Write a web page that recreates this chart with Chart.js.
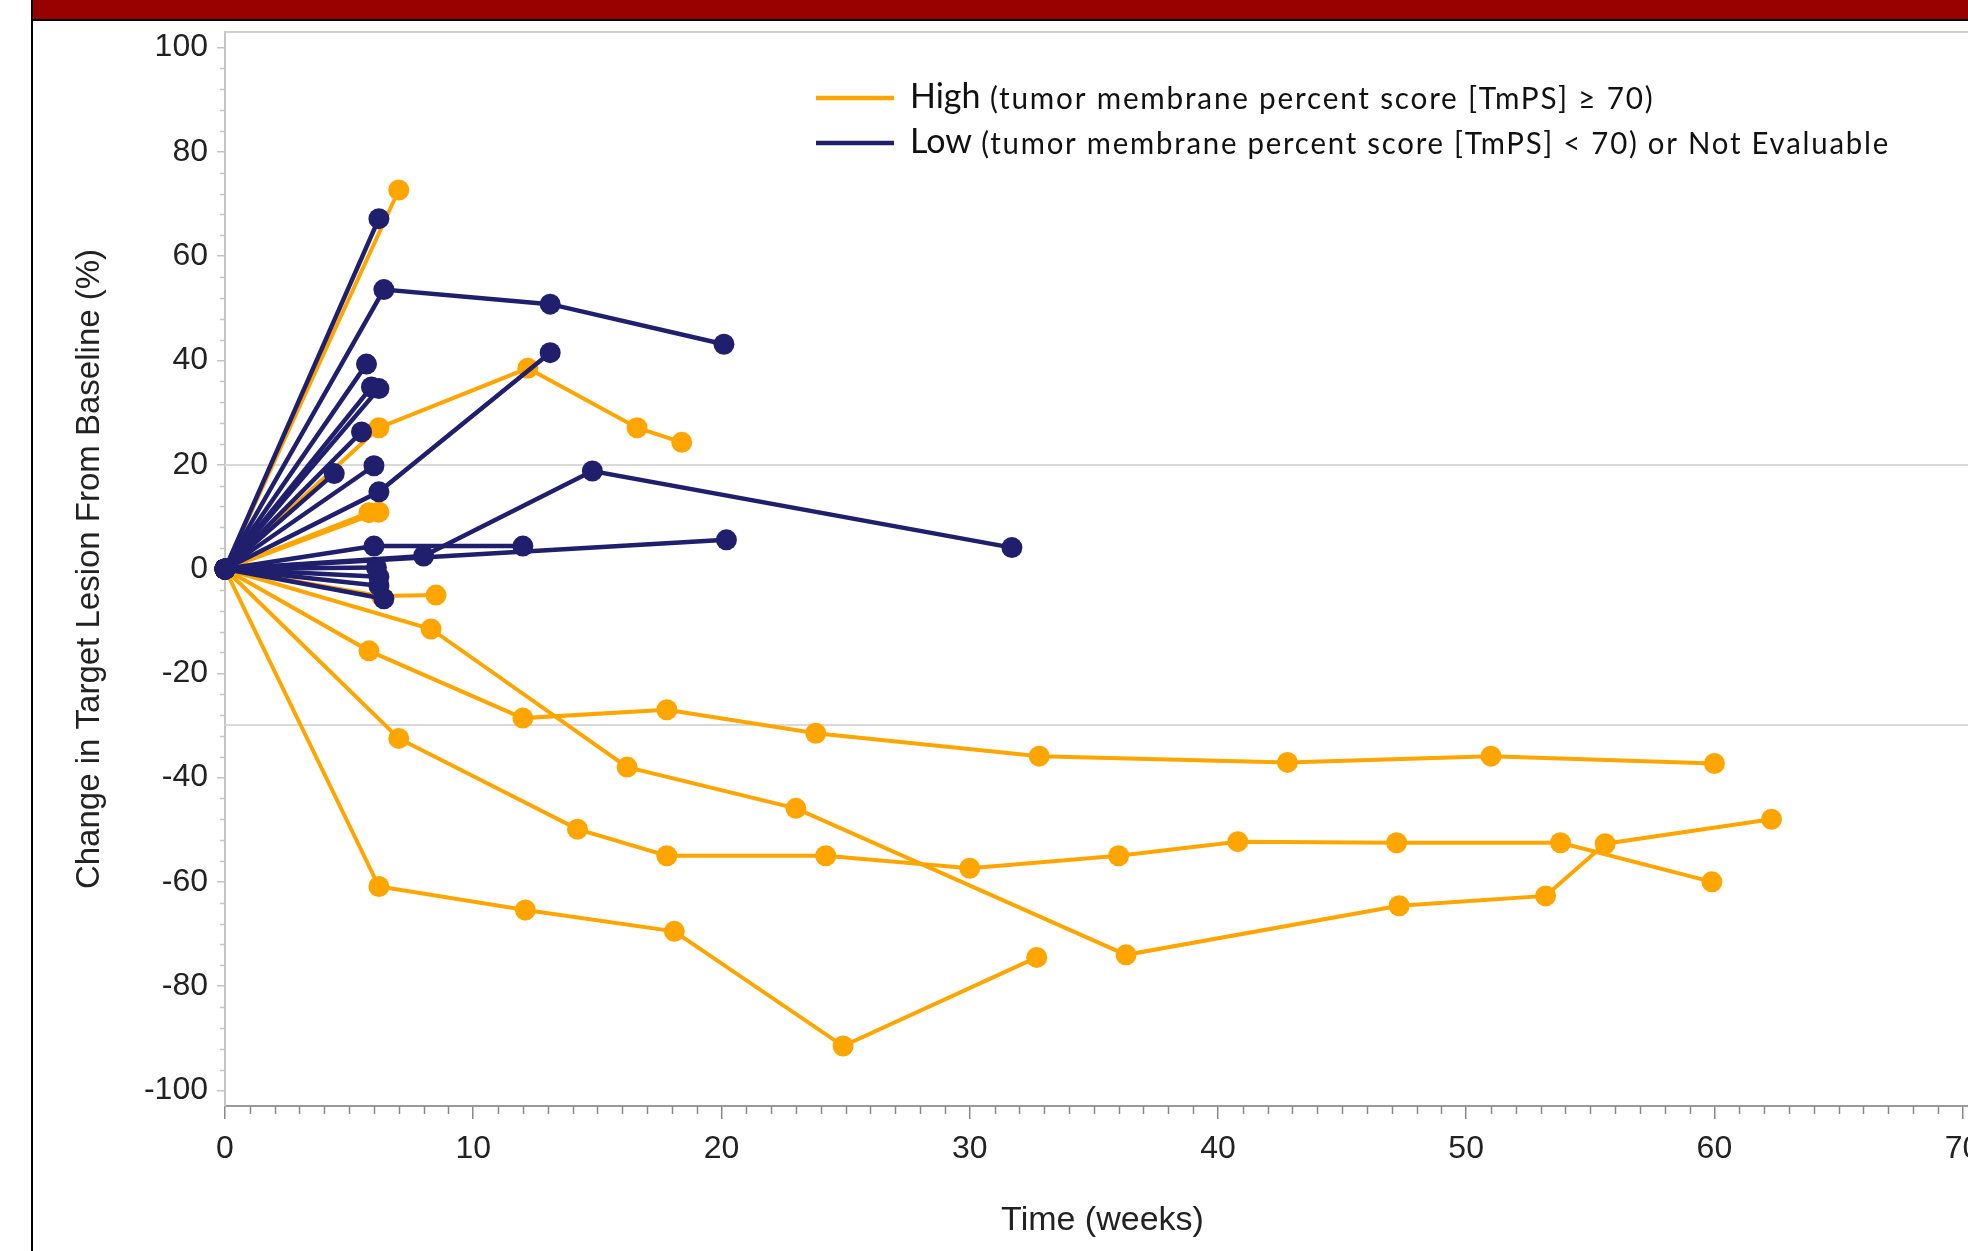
<!DOCTYPE html>
<html>
<head>
<meta charset="utf-8">
<script src="https://cdn.jsdelivr.net/npm/chart.js@4.4.1/dist/chart.umd.min.js"></script>
<style>
  html, body { margin: 0; padding: 0; background: #fff; overflow: hidden; width: 1968px; height: 1251px; }
  #panel { position: absolute; left: 31px; top: -8px; width: 3000px; height: 3000px; border: 2px solid #000; }
  #panel .bar { height: 25px; background: #990000; border-bottom: 2px solid #000; }
  #chart { position: absolute; left: 0; top: 0; }
</style>
</head>
<body>
<div id="panel"><div class="bar"></div></div>
<canvas id="chart" width="2000" height="1251"></canvas>
<script>
// --- data ----------------------------------------------------------
const xTicks = [0, 10, 20, 30, 40, 50, 60, 70];
const yTicks = [-100, -80, -60, -40, -20, 0, 20, 40, 60, 80, 100];
const refLines = [20, -30];

const legendNames = ['High', 'Low'];
const legendNotes = [
  ' (tumor membrane percent score [TmPS] \u2265 70)',
  ' (tumor membrane percent score [TmPS] < 70) or Not Evaluable'
];

// TmPS high: weeks / % change per patient
const highWeeks = [
  [0, 7.0],
  [0, 6.2, 12.2, 16.6, 18.4],
  [0, 5.8],
  [0, 6.2],
  [0, 6.3, 8.5],
  [0, 8.3, 16.2, 23.0, 36.3, 47.3, 53.2, 55.6, 62.3],
  [0, 5.8, 12.0, 17.8, 23.8, 32.8, 42.8, 51.0, 60.0],
  [0, 7.0, 14.2, 17.8, 24.2, 30.0, 36.0, 40.8, 47.2, 53.8, 59.9],
  [0, 6.2, 12.1, 18.1, 24.9, 32.7],
];
const highChange = [
  [0, 72.7],
  [0, 27.1, 38.5, 27.1, 24.3],
  [0, 10.8],
  [0, 10.9],
  [0, -5.2, -5.0],
  [0, -11.5, -38.0, -45.9, -74.0, -64.6, -62.7, -52.7, -48.0],
  [0, -15.7, -28.6, -27.0, -31.5, -35.9, -37.1, -35.9, -37.3],
  [0, -32.5, -49.9, -55.0, -55.0, -57.4, -55.0, -52.3, -52.5, -52.5, -60.0],
  [0, -60.9, -65.4, -69.5, -91.5, -74.5],
];

// TmPS low or not evaluable
const lowWeeks = [
  [0, 6.2],
  [0, 6.4, 13.1, 20.1],
  [0, 5.7],
  [0, 5.9],
  [0, 6.2],
  [0, 5.5],
  [0, 6.0],
  [0, 4.4],
  [0, 6.2, 13.1],
  [0, 6.0, 12.0],
  [0, 8.0, 14.8, 31.7],
  [0, 20.2],
  [0, 6.1],
  [0, 6.2],
  [0, 6.2],
  [0, 6.4],
];
const lowChange = [
  [0, 67.2],
  [0, 53.6, 50.8, 43.1],
  [0, 39.3],
  [0, 34.9],
  [0, 34.6],
  [0, 26.3],
  [0, 19.8],
  [0, 18.3],
  [0, 14.8, 41.5],
  [0, 4.4, 4.4],
  [0, 2.5, 18.8, 4.1],
  [0, 5.6],
  [0, 0.3],
  [0, -1.5],
  [0, -3.2],
  [0, -5.7],
];

const ORANGE = '#ffa500';
const NAVY = '#1f1f6e';
const FONT = "'Liberation Sans', Arial, sans-serif";

function makeSets(weeks, change, color, width, order) {
  return weeks.map((w, i) => ({
    data: w.map((x, j) => ({ x, y: change[i][j] })),
    showLine: true,
    borderColor: color,
    backgroundColor: color,
    borderWidth: width,
    pointRadius: 10.5,
    pointBorderWidth: 0,
    pointHoverRadius: 10.5,
    clip: false,
    order,
  }));
}

// --- extra drawing: reference lines, frame, minor ticks, legend ------
const decor = {
  id: 'decor',
  beforeDatasetsDraw(chart) {
    const { ctx, chartArea: a, scales: { y } } = chart;
    ctx.save();
    ctx.lineWidth = 2;
    ctx.strokeStyle = '#dadada';
    refLines.forEach(v => {
      const py = Math.round(y.getPixelForValue(v));
      ctx.beginPath(); ctx.moveTo(a.left, py); ctx.lineTo(a.right, py); ctx.stroke();
    });
    ctx.strokeStyle = '#d0d0d0';
    ctx.beginPath(); ctx.moveTo(a.left, a.top); ctx.lineTo(a.right, a.top); ctx.stroke();
    ctx.restore();
  },
  afterDraw(chart) {
    const { ctx, chartArea: a, scales: { x, y } } = chart;
    ctx.save();
    ctx.lineWidth = 1.5;
    ctx.strokeStyle = '#8a8a8a';
    for (let v = 1; v <= 70; v++) {
      if (v % 10 === 0) continue;
      const px = Math.round(x.getPixelForValue(v)) + 0.5;
      ctx.beginPath(); ctx.moveTo(px, a.bottom); ctx.lineTo(px, a.bottom + 8); ctx.stroke();
    }
    ctx.strokeStyle = '#c4c4c4';
    for (let v = -100; v <= 100; v += 4) {
      if (v % 20 === 0) continue;
      const py = Math.round(y.getPixelForValue(v)) + 0.5;
      ctx.beginPath(); ctx.moveTo(a.left - 5, py); ctx.lineTo(a.left, py); ctx.stroke();
    }

    // legend
    const colors = [ORANGE, NAVY];
    const rows = [98, 143];
    const noteWidths = [674, 918];
    ctx.textBaseline = 'middle';
    legendNames.forEach((name, i) => {
      ctx.strokeStyle = colors[i];
      ctx.lineWidth = 4.5;
      ctx.beginPath(); ctx.moveTo(816, rows[i]); ctx.lineTo(894, rows[i]); ctx.stroke();
      ctx.fillStyle = '#111';
      ctx.letterSpacing = '0px';
      ctx.font = "34px Lato, 'Open Sans', sans-serif";
      ctx.fillText(name, 910, rows[i] - 1);
      const w = ctx.measureText(name).width;
      ctx.font = "30px Lato, 'Open Sans', sans-serif";
      ctx.letterSpacing = '1.8px';
      ctx.fillText(legendNotes[i], 910 + w, rows[i] + 1, noteWidths[i]);
    });
    ctx.restore();
  }
};

new Chart(document.getElementById('chart'), {
  type: 'scatter',
  data: {
    datasets: [
      ...makeSets(lowWeeks, lowChange, NAVY, 4.5, 0),
      ...makeSets(highWeeks, highChange, ORANGE, 4, 1),
    ]
  },
  options: {
    responsive: false,
    animation: false,
    devicePixelRatio: 1,
    layout: { padding: { top: 32, right: 20, left: 0, bottom: 0 } },
    plugins: { legend: { display: false }, tooltip: { enabled: false } },
    scales: {
      x: {
        type: 'linear',
        min: 0,
        max: 70.7,
        afterBuildTicks: s => { s.ticks = xTicks.map(v => ({ value: v })); },
        afterFit: s => { s.height = 145; },
        grid: { drawOnChartArea: false, tickLength: 13, color: '#8a8a8a', lineWidth: 1.5 },
        border: { color: '#9a9a9a', width: 2 },
        ticks: { font: { family: FONT, size: 32 }, color: '#222', padding: 11, maxRotation: 0 },
        title: {
          display: true, text: 'Time (weeks)',
          font: { family: FONT, size: 34 }, color: '#222', padding: { top: 0, bottom: 10 }
        }
      },
      y: {
        type: 'linear',
        min: -103,
        max: 103,
        afterBuildTicks: s => { s.ticks = yTicks.map(v => ({ value: v })); },
        afterFit: s => { s.width = 225; },
        grid: { drawOnChartArea: false, tickLength: 8, color: '#c4c4c4', lineWidth: 1.5 },
        border: { color: '#c4c4c4', width: 2 },
        ticks: { font: { family: FONT, size: 32 }, color: '#222', padding: 9 },
        title: {
          display: true, text: 'Change in Target Lesion From Baseline (%)',
          font: { family: FONT, size: 33 }, color: '#222', padding: { top: 70, bottom: 0 }
        }
      }
    }
  },
  plugins: [decor]
});
</script>
</body>
</html>
